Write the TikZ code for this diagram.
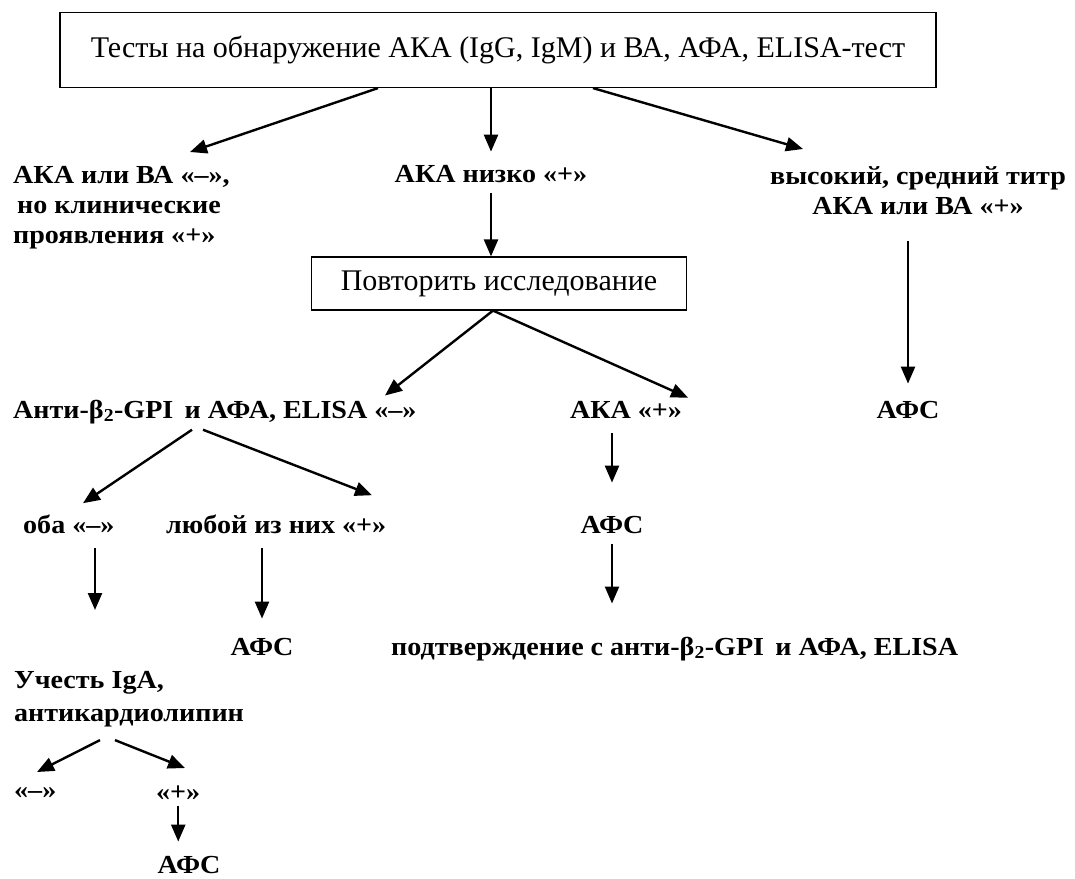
\documentclass[tikz,border=0pt]{standalone}
\usepackage{fontspec}
\setmainfont{Liberation Serif}
\newfontfamily\lblfont{Liberation Serif}[FakeStretch=1.08]
\usetikzlibrary{arrows.meta}

\tikzset{
  testbox/.style={draw, line width=1.2pt, inner sep=0pt, font=\fontsize{30}{34}\selectfont},
  lbl/.style={inner sep=0pt, font=\lblfont\bfseries\fontsize{26}{30}\selectfont},
  >={Triangle[length=17pt,width=14pt]}
}

\begin{document}
\begin{tikzpicture}[x=1pt, y=-1pt, line width=2.4pt]
\useasboundingbox (0,0) rectangle (1075,878);
\fill [white] (0,0) rectangle (1075,878);

% first tests and the three outcomes
\node (tests) [testbox, minimum width=876pt, minimum height=75pt] at (498,50) {Тесты на обнаружение АКА (IgG, IgM) и ВА, АФА, ELISA-тест};
\node (akaneg) [lbl, anchor=north west, align=left] at (12,165) {АКА или ВА «–»,\\\hspace*{4pt}но клинические\\проявления «+»};
\node (akalow) [lbl, anchor=base] at (491,182) {АКА низко «+»};
\node (akahigh) [lbl, anchor=north, align=center] at (918,165) {высокий, средний титр\\АКА или ВА «+»};
\node (repeat) [testbox, minimum width=375pt, minimum height=53pt] at (499,283.5) {Повторить исследование};

% after the repeat
\node (anti) [lbl, anchor=base west] at (12,418) {Анти-β\textsubscript{2}-GPI\, и АФА, ELISA «–»};
\node (akapos) [lbl, anchor=base] at (626,418) {АКА «+»};
\node (apsR) [lbl, anchor=base] at (908,418) {АФС};
\node (both) [lbl, anchor=base west] at (22,533) {оба «–»};
\node (any) [lbl, anchor=base west] at (165,533) {любой из них «+»};
\node (apsM) [lbl, anchor=base] at (612,533) {АФС};
\node (apsL) [lbl, anchor=base] at (262,655) {АФС};
\node (confirm) [lbl, anchor=base west] at (390,655) {подтверждение с анти-β\textsubscript{2}-GPI\, и АФА, ELISA};

% IgA branch
\node (iga) [lbl, anchor=north west, align=left, font=\lblfont\bfseries\fontsize{26}{33}\selectfont] at (13,670) {Учесть IgA,\\антикардиолипин};
\node (minus) [lbl, anchor=west] at (13,793) {«–»};
\node (plus) [lbl, anchor=west] at (155,793) {«+»};
\node (apsB) [lbl, anchor=base] at (189,873) {АФС};

\draw [->] ([xshift=-120pt]tests.south) -- ([xshift=178pt,yshift=13pt]akaneg.north west);
\draw [->, shorten >=12pt] (tests.south -| akalow) -- (akalow.north);
\draw [->] ([xshift=95pt]tests.south) -- ([xshift=-115pt,yshift=16pt]akahigh.north);
\draw [->, shorten <=10pt] (akalow.south) -- (repeat.north -| akalow);
\draw [->] ([xshift=-6pt]repeat.south) -- ([xshift=373pt,yshift=3pt]anti.north west);
\draw [->] ([xshift=-6pt]repeat.south) -- ([xshift=62pt,yshift=2pt]akapos.north);
\draw [->, shorten <=25pt, shorten >=16pt] (akahigh.south -| apsR.north) -- (apsR.north);
\draw [->, shorten <=14pt, shorten >=32pt] (akapos.south -| apsM.north) -- (apsM.north);
\draw [->, shorten <=10pt, shorten >=32pt] (apsM.south) -- (apsM.south |- confirm.north);
\draw [->] ([xshift=180pt,yshift=-5pt]anti.south west) -- ([xshift=61pt,yshift=10pt]both.north west);
\draw [->] ([xshift=191pt,yshift=-5pt]anti.south west) -- ([xshift=207pt,yshift=18pt]any.north west);
\draw [->, shorten <=14pt, shorten >=60pt] ([xshift=73pt]both.south west) -- ([xshift=82pt]iga.north west);
\draw [->, shorten <=14pt, shorten >=18pt] (any.south -| apsL.north) -- (apsL.north);
\draw [->] ([xshift=87pt,yshift=-12pt]iga.south west) -- ([xshift=24pt,yshift=21pt]minus.west);
\draw [->] ([xshift=102pt,yshift=-12pt]iga.south west) -- ([xshift=30pt,yshift=25pt]plus.west);
\draw [->, shorten <=4pt, shorten >=13pt] (plus.south) -- (plus.south |- apsB.north);
\end{tikzpicture}
\end{document}
